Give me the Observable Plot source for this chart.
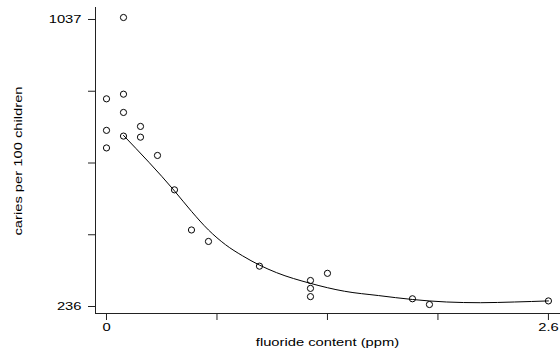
<!DOCTYPE html>
<html>
<head>
<meta charset="utf-8">
<script src="https://cdn.jsdelivr.net/npm/d3@7"></script>
<script src="https://cdn.jsdelivr.net/npm/@observablehq/plot@0.6"></script>
<style>
  html, body { margin: 0; padding: 0; background: #fff; }
  #chart svg { display: block; }
</style>
</head>
<body>
<div id="chart"></div>
<script>
// Observed data: fluoride content (ppm) and caries per 100 children
const fluoride = [0.1, 0.0, 0.1, 0.1, 0.0, 0.2, 0.1, 0.2, 0.0, 0.3, 0.4, 0.5, 0.6, 0.9, 1.2, 1.2, 1.2, 1.3, 1.8, 1.9, 2.6];
const caries   = [1037, 810, 823, 772, 722, 733, 706, 703, 673, 652, 556, 444, 412, 343, 303, 281, 258, 323, 252, 236, 246];

// Fitted curve
const fitX = [0.1, 0.4, 0.5, 0.6, 0.7, 0.8, 0.9, 1.0, 1.2, 1.4, 1.6, 1.8, 2.0, 2.2, 2.4, 2.6];
const fitY = [708, 553, 496, 444, 403, 372, 346, 325, 295, 273, 261, 250, 243, 241, 243, 246];

// Axis ticks (only the ends are labelled)
const xTicks = [0, 0.65, 1.3, 1.95, 2.6];
const xTickLabels = ["0", "", "", "", "2.6"];
const yTicks = [236, 436.25, 636.5, 836.75, 1037];
const yTickLabels = ["236", "", "", "", "1037"];

const xLabel = "fluoride content (ppm)";
const yLabel = "caries per 100 children";

const points = fluoride.map((f, i) => ({f, c: caries[i]}));
const fit = fitX.map((f, i) => ({f, c: fitY[i]}));

const font = "'Liberation Sans', Arial, Helvetica, sans-serif";

const chart = Plot.plot({
  width: 560,
  height: 349,
  marginLeft: 95,
  marginRight: 0,
  marginTop: 7,
  marginBottom: 36,
  style: {fontFamily: font, fontSize: "11px", color: "#000", background: "#fff"},
  x: {domain: [-0.0647, 2.671]},
  y: {domain: [210.9, 1064.9]},
  marks: [
    Plot.frame({anchor: "left", stroke: "#222", strokeWidth: 1}),
    Plot.frame({anchor: "bottom", stroke: "#222", strokeWidth: 1}),
    Plot.axisX({ticks: xTicks, tickSize: 7, tickPadding: 3, label: null,
      tickFormat: (d) => xTickLabels[xTicks.indexOf(d)], stroke: "#222", fill: "#000"}),
    Plot.axisY({ticks: yTicks, tickSize: 7, tickPadding: 7, label: null, dy: 2,
      tickFormat: (d) => yTickLabels[yTicks.indexOf(d)], stroke: "#222", fill: "#000"}),
    Plot.line(fit, {x: "f", y: "c", curve: "monotone-x", stroke: "#000", strokeWidth: 1}),
    Plot.dot(points, {x: "f", y: "c", r: 3.1, stroke: "#000", fill: "none", strokeWidth: 1}),
    Plot.text([xLabel], {x: [(xTicks[0] + xTicks[xTicks.length - 1]) / 2], frameAnchor: "bottom",
      dy: 28.5, text: (d) => d, fill: "#000", fontSize: 11, lineAnchor: "middle", textAnchor: "middle"}),
    Plot.text([yLabel], {y: [(yTicks[0] + yTicks[yTicks.length - 1]) / 2], frameAnchor: "left",
      dx: -77.5, rotate: -90, text: (d) => d, fill: "#000", fontSize: 11, lineAnchor: "middle", textAnchor: "middle"})
  ]
});

// The original's lettering is stretched along its reading direction
const STRETCH = 1.34;
chart.querySelectorAll("text").forEach((t) => {
  if (!t.textContent) return;
  const tr = t.getAttribute("transform") || "";
  const x = t.getAttribute("x");
  let pre = tr;
  if (x != null && isFinite(+x)) {
    pre += ` translate(${+x},0)`;
    t.removeAttribute("x");
  }
  t.setAttribute("transform", `${pre} scale(${STRETCH},1)`.trim());
});

document.getElementById("chart").append(chart);
</script>
</body>
</html>
